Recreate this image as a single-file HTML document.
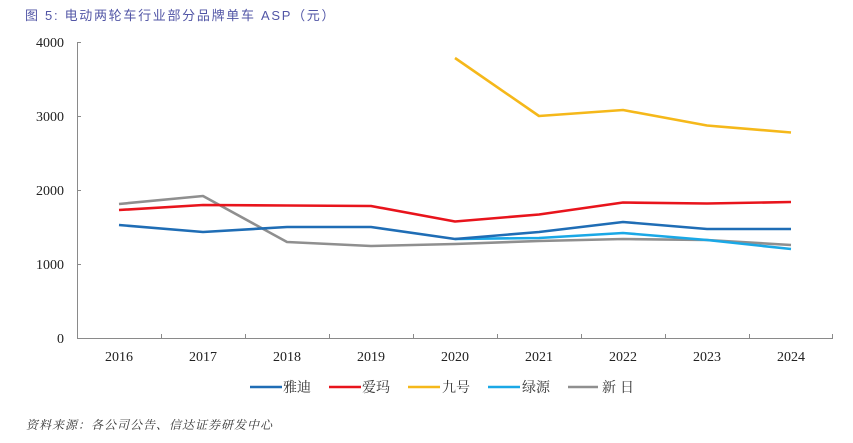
<!DOCTYPE html>
<html><head><meta charset="utf-8">
<style>
html,body{margin:0;padding:0;background:#fff;}
body{width:853px;height:443px;overflow:hidden;position:relative;}
svg{position:absolute;left:0;top:0;}
</style></head>
<body>
<svg width="853" height="443" viewBox="0 0 853 443" xmlns="http://www.w3.org/2000/svg">
<text x="25" y="20" font-family="'Liberation Sans','Noto Sans CJK SC',sans-serif" font-size="13" letter-spacing="1.7" fill="#5256a6">图 5:  电动两轮车行业部分品牌单车 ASP（元）</text>

<!-- axes -->
<g stroke="#8a8a8a" stroke-width="1" fill="none">
<line x1="77.5" y1="42" x2="77.5" y2="338.5"/>
<line x1="77" y1="338.5" x2="833" y2="338.5"/>
<line x1="77" y1="42.5" x2="81" y2="42.5"/>
<line x1="77" y1="116.5" x2="81" y2="116.5"/>
<line x1="77" y1="190.5" x2="81" y2="190.5"/>
<line x1="77" y1="264.5" x2="81" y2="264.5"/>
<line x1="161.5" y1="334" x2="161.5" y2="338"/>
<line x1="245.5" y1="334" x2="245.5" y2="338"/>
<line x1="329.5" y1="334" x2="329.5" y2="338"/>
<line x1="413.5" y1="334" x2="413.5" y2="338"/>
<line x1="497.5" y1="334" x2="497.5" y2="338"/>
<line x1="581.5" y1="334" x2="581.5" y2="338"/>
<line x1="665.5" y1="334" x2="665.5" y2="338"/>
<line x1="749.5" y1="334" x2="749.5" y2="338"/>
<line x1="832.5" y1="334" x2="832.5" y2="338"/>
</g>

<g font-family="'Liberation Serif',serif" font-size="14" fill="#222" text-anchor="end">
<text x="64" y="47">4000</text>
<text x="64" y="121">3000</text>
<text x="64" y="195">2000</text>
<text x="64" y="269">1000</text>
<text x="64" y="343">0</text>
</g>
<g font-family="'Liberation Serif',serif" font-size="14" fill="#222" text-anchor="middle">
<text x="119" y="361">2016</text>
<text x="203" y="361">2017</text>
<text x="287" y="361">2018</text>
<text x="371" y="361">2019</text>
<text x="455" y="361">2020</text>
<text x="539" y="361">2021</text>
<text x="623" y="361">2022</text>
<text x="707" y="361">2023</text>
<text x="791" y="361">2024</text>
</g>

<!-- series -->
<g fill="none" stroke-width="2.6" stroke-linejoin="round" stroke-linecap="butt">
<polyline stroke="#8f8f8f" points="119,204 203,196 287,242 371,246 455,244 539,241 623,239 707,240 791,245"/>
<polyline stroke="#1aa8e6" points="455,239 539,238 623,233 707,240 791,249"/>
<polyline stroke="#1f6db5" points="119,225 203,232 287,227 371,227 455,239 539,232 623,222 707,229 791,229"/>
<polyline stroke="#e8141c" points="119,210 203,205 287,205.5 371,206 455,221.5 539,214.5 623,202.5 707,203.5 791,202"/>
<polyline stroke="#f5b81a" points="455,58 539,116 623,110 707,125.5 791,132.5"/>
</g>

<!-- legend -->
<g stroke-width="2.6">
<line x1="250" y1="387" x2="282" y2="387" stroke="#1f6db5"/>
<line x1="329" y1="387" x2="361" y2="387" stroke="#e8141c"/>
<line x1="408" y1="387" x2="440" y2="387" stroke="#f5b81a"/>
<line x1="488" y1="387" x2="520" y2="387" stroke="#1aa8e6"/>
<line x1="568" y1="387" x2="598" y2="387" stroke="#8f8f8f"/>
</g>
<g font-family="'Liberation Serif','Noto Serif CJK SC',serif" font-size="14" fill="#333">
<text x="283" y="392">雅迪</text>
<text x="362" y="392">爱玛</text>
<text x="442" y="392">九号</text>
<text x="522" y="392">绿源</text>
<text x="602" y="392" letter-spacing="4">新日</text>
</g>

<text x="26" y="429" font-family="'Liberation Serif','Noto Serif CJK SC',serif" font-size="12" font-style="italic" fill="#333" letter-spacing="1">资料来源：各公司公告、信达证券研发中心</text>
</svg>
</body></html>
